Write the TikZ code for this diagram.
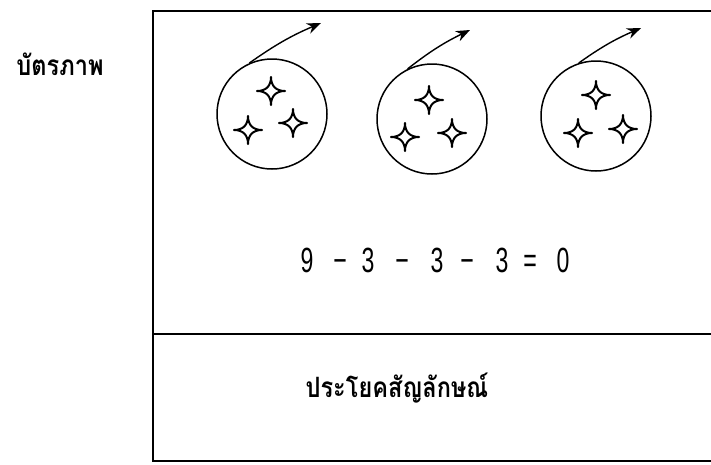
\documentclass[tikz,border=0pt]{standalone}
\usepackage{fontspec}
\newfontfamily\thaifont[Script=Thai,FakeStretch=0.84]{Loma}
\newfontfamily\eqfont[FakeStretch=0.66]{Liberation Sans}
\usetikzlibrary{arrows.meta}
\tikzset{
  frame/.style={line width=1.9pt},
  ring/.style={circle, draw, line width=1.5pt, minimum size=110pt, inner sep=0pt},
  motion/.style={line width=1.4pt, -{Stealth[length=14pt,width=11pt]}},
  sparkle/.pic={\draw[line width=2pt, line join=round] (0,14) .. controls (0,5) and (5,0) .. (14,0) .. controls (5,0) and (0,-5) .. (0,-14) .. controls (0,-5) and (-5,0) .. (-14,0) .. controls (-5,0) and (0,5) .. (0,14) -- cycle;},
  eq/.style={font=\eqfont\fontsize{35}{35}\selectfont, inner sep=0pt, anchor=base},
  thai/.style={font=\thaifont\bfseries\fontsize{28}{32}\selectfont, inner sep=0pt}
}
\begin{document}
\begin{tikzpicture}[x=1pt,y=-1pt]
\useasboundingbox[fill=white] (0,0) rectangle (711,464);
% frame
\draw[frame] (711,11) -- (153,11) -- (153,461) -- (711,461);
\draw[frame] (153,334) -- (711,334);
% label
\node[thai] (lbl) at (60,64) {บัตรภาพ};
% circles
\node[ring] (c1) at (272,114) {};
\node[ring] (c2) at (432,119) {};
\node[ring] (c3) at (596,116) {};
\coordinate (e1) at (321,23);
\coordinate (e2) at (470,30);
\coordinate (e3) at (641,28);
\draw[motion] (c1.114) to[bend left=6] (e1);
\draw[motion] (c2.116) to[bend left=6] (e2);
\draw[motion] (c3.108) to[bend left=6] (e3);
% stars
\pic at (271,91) {sparkle};
\pic at (248,130) {sparkle};
\pic at (293,123) {sparkle};
\pic at (429,100) {sparkle};
\pic at (405,137) {sparkle};
\pic at (452,133) {sparkle};
\pic at (596,95) {sparkle};
\pic at (578,133) {sparkle};
\pic at (623,129) {sparkle};
% equation
\node[eq] (t1) at (307,272) {9};
\node[eq] (t2) at (340,272) {−};
\node[eq] (t3) at (368,272) {3};
\node[eq] (t4) at (402,272) {−};
\node[eq] (t5) at (437,272) {3};
\node[eq] (t6) at (467,272) {−};
\node[eq] (t7) at (502,272) {3};
\node[eq] (t8) at (530,272) {=};
\node[eq] (t9) at (563,272) {0};
% symbolic sentence
\node[thai] (sym) at (397,388) {ประโยคสัญลักษณ์};
\end{tikzpicture}
\end{document}
